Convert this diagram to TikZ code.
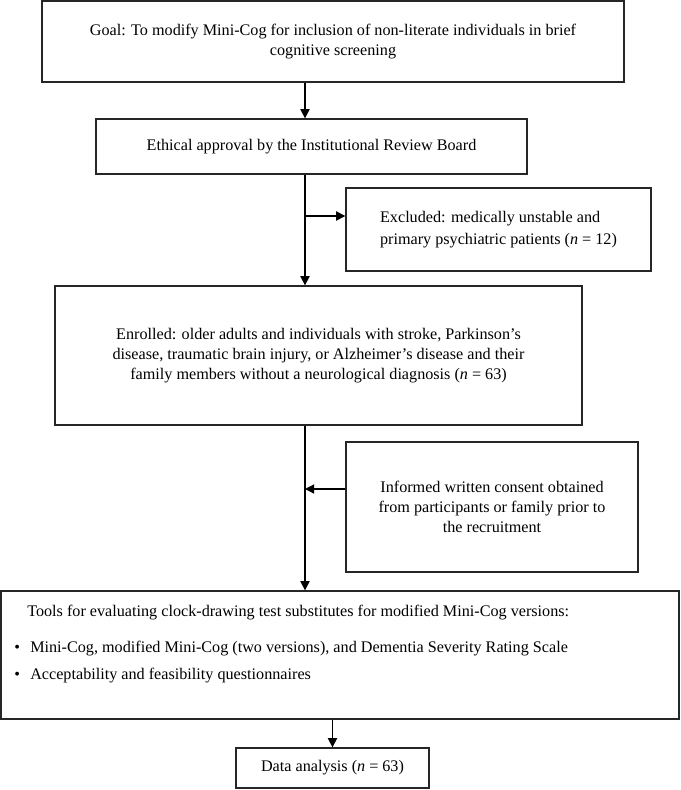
\documentclass[tikz,border=0pt]{standalone}
\usepackage{fontspec}
\setmainfont{Liberation Serif}
\usetikzlibrary{arrows.meta}

\begin{document}
\begin{tikzpicture}[
		x=0.025cm, y=-0.025cm,
		every node/.style={font=\fontsize{11.5}{14.2}\selectfont},
		box/.style={draw=black!85, line width=0.9pt, inner sep=0pt, align=center},
		arrow/.style={-{Triangle[length=2.3mm, width=2.3mm]}, line width=0.9pt},
		]
		
		\useasboundingbox (0,0) rectangle (680,790);
		
		% -------- Helper coordinates --------
		\coordinate (spine) at (305,0);
		\coordinate (excl) at (305,216);
		\coordinate (cons) at (305,489);
		
		% -------- Main column --------
		\node[box, minimum width=14.55cm, minimum height=2.025cm] (goal) at (333,41.5)
		{Goal: To modify Mini-Cog for inclusion of non-literate individuals in brief\\cognitive screening};
		\node[box, minimum width=10.775cm, minimum height=1.375cm] (ethics) at (311.5,146.5)
		{Ethical approval by the Institutional Review Board};
		\node[box, minimum width=13.175cm, minimum height=3.475cm] (enrolled) at (318.5,355.5)
		{Enrolled: older adults and individuals with stroke, Parkinson's\\disease, traumatic brain injury, or Alzheimer's disease and their\\family members without a neurological diagnosis (\textit{n} = 63)};
		\node[box, minimum width=16.95cm, minimum height=3.2cm] (tools) at (340,655) {};
		\node[anchor=north west, align=left, inner sep=0pt] (toolslist) at (14,605)
		{\hspace*{0.325cm}Tools for evaluating clock-drawing test substitutes for modified Mini-Cog versions:\\[11.3pt]
		\makebox[0.4cm][l]{\textbullet}Mini-Cog, modified Mini-Cog (two versions), and Dementia Severity Rating Scale\\[4.9pt]
		\makebox[0.4cm][l]{\textbullet}Acceptability and feasibility questionnaires};
		\node[box, minimum width=4.825cm, minimum height=1cm] (analysis) at (332.5,768)
		{Data analysis (\textit{n} = 63)};
		
		% -------- Side boxes --------
		\node[box, align=left, minimum width=7.625cm, minimum height=2.075cm] (excluded) at (498.5,229.5)
		{Excluded: medically unstable and\\[1.4pt]primary psychiatric patients (\textit{n} = 12)};
		\node[box, minimum width=7.3cm, minimum height=3.25cm] (consent) at (492,507)
		{Informed written consent obtained\\from participants or family prior to\\the recruitment};
		
		% ---- Flow down the main column ----
		\draw[arrow] (goal.south -| spine) -- (ethics.north -| spine);
		\draw[arrow] (ethics.south -| spine) -- (enrolled.north -| spine);
		\draw[arrow] (enrolled.south -| spine) -- (tools.north -| spine);
		\draw[arrow] (tools.south -| analysis) -- (analysis.north);
		
		% ---- Side branches ----
		\draw[arrow] (excl) -- (excluded.west |- excl);
		\draw[arrow] (consent.west |- cons) -- (cons);
		
	\end{tikzpicture}
\end{document}
